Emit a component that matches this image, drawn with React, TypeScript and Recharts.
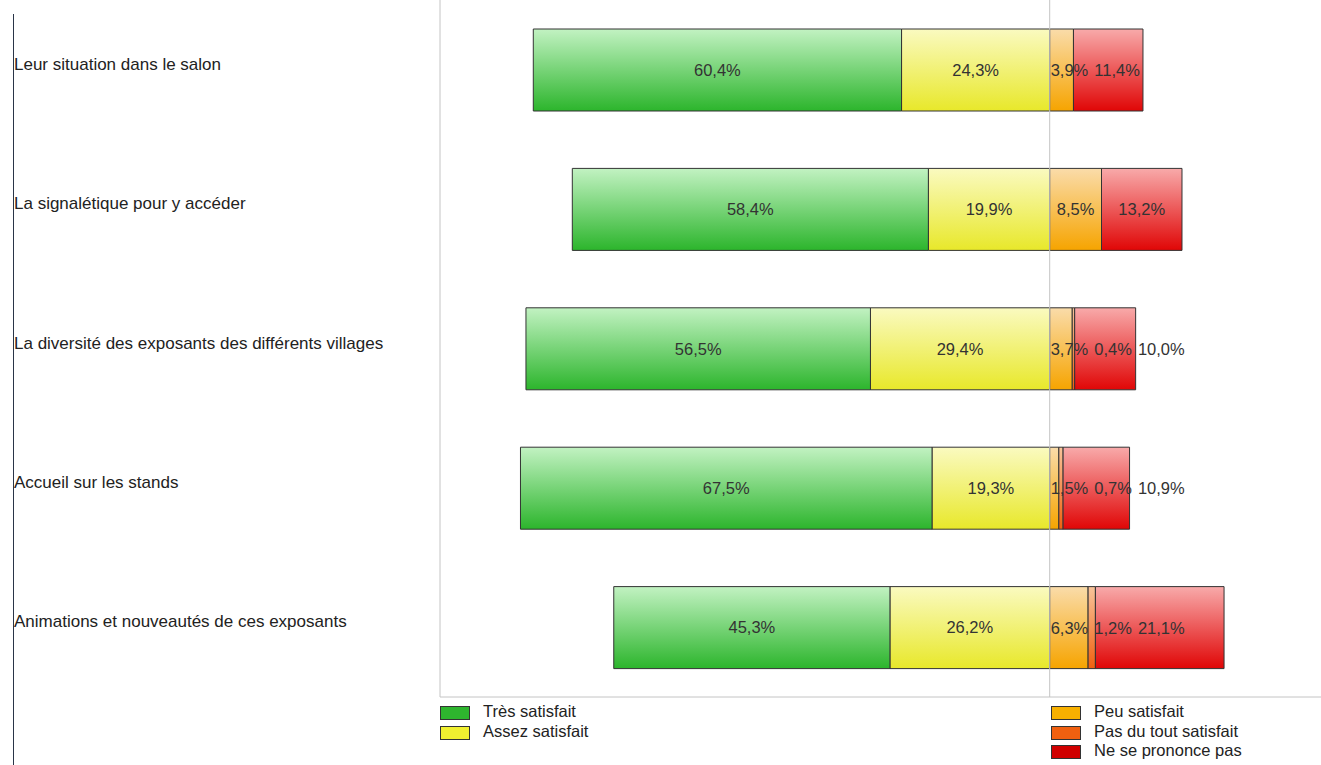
import React from 'react';
import { BarChart, Bar, XAxis, YAxis, ReferenceLine, LabelList } from 'recharts';

const categories = [
  'Leur situation dans le salon',
  'La signalétique pour y accéder',
  'La diversité des exposants des différents villages',
  'Accueil sur les stands',
  'Animations et nouveautés de ces exposants',
];
const tresSatisfait = [60.4, 58.4, 56.5, 67.5, 45.3];
const assezSatisfait = [24.3, 19.9, 29.4, 19.3, 26.2];
const peuSatisfait = [3.9, 8.5, 3.7, 1.5, 6.3];
const pasDuTout = [0, 0, 0.4, 0.7, 1.2];
const nePrononce = [11.4, 13.2, 10.0, 10.9, 21.1];

const leftLegend = [
  { name: 'Très satisfait', color: '#2eb52e' },
  { name: 'Assez satisfait', color: '#f0f030' },
];
const rightLegend = [
  { name: 'Peu satisfait', color: '#f8b000' },
  { name: 'Pas du tout satisfait', color: '#f06010' },
  { name: 'Ne se prononce pas', color: '#d00000' },
];

// negative side stacks outwards from the centre, so "assez" comes first
const data = categories.map((name, i) => ({
  name,
  assez: -assezSatisfait[i],
  tres: -tresSatisfait[i],
  peu: peuSatisfait[i],
  pas: pasDuTout[i],
  ne: nePrononce[i],
}));

const FONT = "Arial, 'Liberation Sans', sans-serif";
const LABEL_SIZE = 16.5;

const fmt = (v: number) => `${Math.abs(v).toFixed(1).replace('.', ',')}%`;

const textWidth = (s: string) => {
  let w = 0;
  for (const ch of s) {
    if (ch === ',') w += 0.278;
    else if (ch === '%') w += 0.889;
    else w += 0.556;
  }
  return w * LABEL_SIZE;
};

// labels for the right-hand (positive) segments, pushed right when they collide
const RightLabels = (props: any) => {
  const vb = props.viewBox || props;
  const { x, y, width, height } = vb;
  const index = props.index;
  const row = data[index];
  if (!row || !row.ne) return null;
  const ppu = width / row.ne;
  const zeroX = x - (row.peu + row.pas) * ppu;
  const segs = [
    { v: row.peu, start: zeroX },
    { v: row.pas, start: zeroX + row.peu * ppu },
    { v: row.ne, start: zeroX + (row.peu + row.pas) * ppu },
  ].filter((s) => s.v > 0);
  let prevRight = -Infinity;
  const cy = y + height / 2;
  return (
    <g>
      {segs.map((s, k) => {
        const txt = fmt(s.v);
        const w = textWidth(txt);
        const center = s.start + (s.v * ppu) / 2;
        const left = Math.max(center - w / 2, s.start + 1, prevRight + 6);
        prevRight = left + w;
        return (
          <text key={k} x={left} y={cy} dy="0.36em" fill="#333" fontSize={LABEL_SIZE} fontFamily={FONT}>
            {txt}
          </text>
        );
      })}
    </g>
  );
};

const CategoryTick = ({ y, payload }: any) => (
  <text x={14} y={y} fill="#222" fontSize={17} fontFamily={FONT} textAnchor="start">
    {payload.value}
  </text>
);

const LegendBlock = ({ items, left, textLeft }: any) => (
  <div style={{ position: 'absolute', top: 705, left, fontFamily: FONT, fontSize: 16.5, color: '#222' }}>
    {items.map((it: any) => (
      <div key={it.name} style={{ position: 'relative', height: 19.5 }}>
        <div
          style={{
            position: 'absolute',
            left: 0,
            top: 1,
            width: 28,
            height: 12,
            background: it.color,
            border: '1px solid #333',
          }}
        />
        <div style={{ position: 'absolute', left: textLeft, top: -3, whiteSpace: 'nowrap', lineHeight: '19px' }}>
          {it.name}
        </div>
      </div>
    ))}
  </div>
);

const App: React.FC = () => {
  return (
    <div style={{ position: 'absolute', left: 0, top: 0, width: 1321, height: 765, background: '#fff' }}>
      <div style={{ position: 'absolute', left: 13, top: 14, width: 1, height: 751, background: '#2a3548' }} />
      <BarChart
        width={1321}
        height={765}
        data={data}
        layout="vertical"
        stackOffset="sign"
        margin={{ top: 0, right: 0, bottom: 67, left: 0 }}
      >
        <defs>
          <linearGradient id="gTres" x1="0" y1="0" x2="0" y2="1">
            <stop offset="0%" stopColor="#c2f2c2" />
            <stop offset="100%" stopColor="#2cb52c" />
          </linearGradient>
          <linearGradient id="gAssez" x1="0" y1="0" x2="0" y2="1">
            <stop offset="0%" stopColor="#fafac0" />
            <stop offset="100%" stopColor="#e8e82a" />
          </linearGradient>
          <linearGradient id="gPeu" x1="0" y1="0" x2="0" y2="1">
            <stop offset="0%" stopColor="#fadcaa" />
            <stop offset="100%" stopColor="#f6a400" />
          </linearGradient>
          <linearGradient id="gPas" x1="0" y1="0" x2="0" y2="1">
            <stop offset="0%" stopColor="#f8c49a" />
            <stop offset="100%" stopColor="#f06010" />
          </linearGradient>
          <linearGradient id="gNe" x1="0" y1="0" x2="0" y2="1">
            <stop offset="0%" stopColor="#f8aaaa" />
            <stop offset="100%" stopColor="#e00606" />
          </linearGradient>
        </defs>
        <XAxis
          type="number"
          domain={[-100, 44.5]}
          allowDataOverflow
          height={1}
          tick={false}
          tickLine={false}
          axisLine={{ stroke: '#c4c4c4' }}
        />
        <YAxis
          type="category"
          dataKey="name"
          width={440}
          tickLine={false}
          axisLine={{ stroke: '#c4c4c4' }}
          tick={<CategoryTick />}
          interval={0}
        />
        <ReferenceLine x={0} stroke="#c4c4c4" />
        <Bar dataKey="assez" stackId="s" barSize={82} fill="url(#gAssez)" stroke="#333" isAnimationActive={false}>
          <LabelList dataKey="assez" position="center" formatter={(v: any) => fmt(Number(v))} fill="#333" fontSize={LABEL_SIZE} fontFamily={FONT} />
        </Bar>
        <Bar dataKey="tres" stackId="s" barSize={82} fill="url(#gTres)" stroke="#333" isAnimationActive={false}>
          <LabelList dataKey="tres" position="center" formatter={(v: any) => fmt(Number(v))} fill="#333" fontSize={LABEL_SIZE} fontFamily={FONT} />
        </Bar>
        <Bar dataKey="peu" stackId="s" barSize={82} fill="url(#gPeu)" stroke="#333" isAnimationActive={false} />
        <Bar dataKey="pas" stackId="s" barSize={82} fill="url(#gPas)" stroke="#333" isAnimationActive={false} />
        <Bar dataKey="ne" stackId="s" barSize={82} fill="url(#gNe)" stroke="#333" isAnimationActive={false}>
          <LabelList dataKey="ne" content={<RightLabels />} />
        </Bar>
      </BarChart>
      <LegendBlock items={leftLegend} left={440} textLeft={43} />
      <LegendBlock items={rightLegend} left={1051} textLeft={43} />
    </div>
  );
};

export default App;
